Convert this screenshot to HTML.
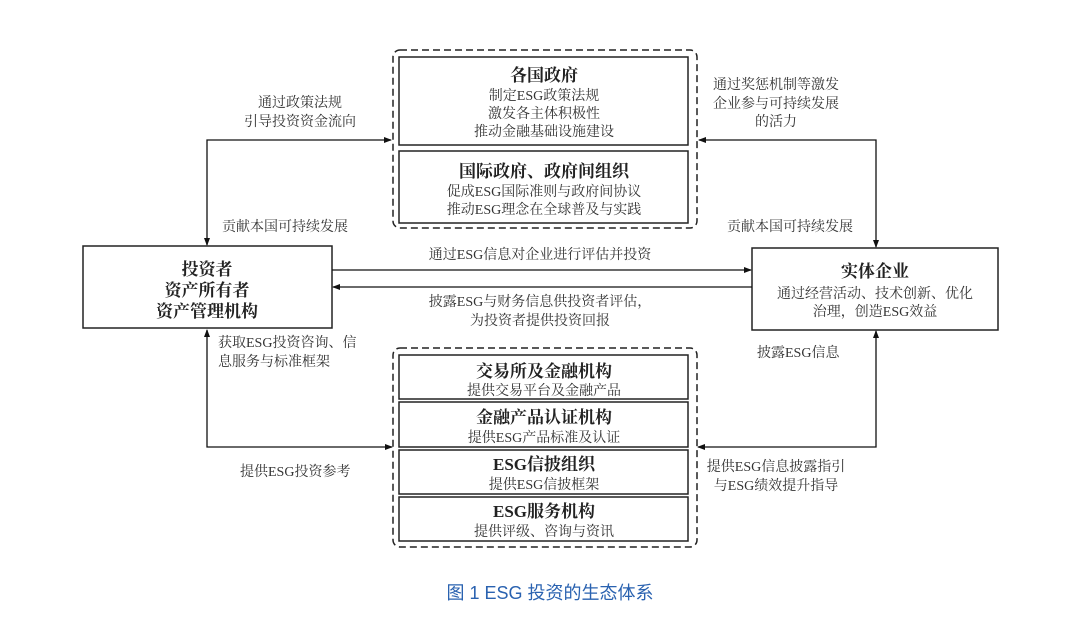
<!DOCTYPE html>
<html><head><meta charset="utf-8"><style>
html,body{margin:0;padding:0;background:#fff;}
svg{display:block}
text{font-family:"Liberation Serif","Noto Serif CJK SC",serif;fill:#222;}
.t{font-size:17px;font-weight:bold;}
.s{font-size:14px;fill:#333;}
.c{text-anchor:middle;}
</style></head><body>
<svg width="1080" height="629" viewBox="0 0 1080 629">
<defs><marker id="a" markerWidth="8" markerHeight="8" refX="7" refY="4" orient="auto-start-reverse" markerUnits="userSpaceOnUse"><path d="M0,1 L8,4 L0,7z" fill="#111"/></marker></defs>
<g fill="none" stroke="#222" stroke-width="1.5">
<rect x="393" y="50" width="304" height="178" rx="7" stroke-dasharray="7,4"/>
<rect x="399" y="57" width="289" height="88"/>
<rect x="399" y="151" width="289" height="72"/>
<rect x="393" y="348" width="304" height="199" rx="7" stroke-dasharray="7,4"/>
<rect x="399" y="355" width="289" height="44"/>
<rect x="399" y="402" width="289" height="45"/>
<rect x="399" y="450" width="289" height="44"/>
<rect x="399" y="497" width="289" height="44"/>
<rect x="83" y="246" width="249" height="82"/>
<rect x="752" y="248" width="246" height="82"/>
<g stroke="#111" stroke-width="1.3">
<path d="M391,140 H207 V245" marker-start="url(#a)" marker-end="url(#a)"/>
<path d="M699,140 H876 V247" marker-start="url(#a)" marker-end="url(#a)"/>
<path d="M332,270 H751" marker-end="url(#a)"/>
<path d="M752,287 H333" marker-end="url(#a)"/>
<path d="M207,330 V447 H392" marker-start="url(#a)" marker-end="url(#a)"/>
<path d="M876,331 V447 H698" marker-start="url(#a)" marker-end="url(#a)"/>
</g>
</g>
<text class="t c" x="544" y="81">各国政府</text>
<text class="s c" x="544" y="100">制定ESG政策法规</text>
<text class="s c" x="544" y="118">激发各主体积极性</text>
<text class="s c" x="544" y="136">推动金融基础设施建设</text>
<text class="t c" x="544" y="177">国际政府、政府间组织</text>
<text class="s c" x="544" y="196">促成ESG国际准则与政府间协议</text>
<text class="s c" x="544" y="214">推动ESG理念在全球普及与实践</text>
<text class="t c" x="544" y="377">交易所及金融机构</text>
<text class="s c" x="544" y="395">提供交易平台及金融产品</text>
<text class="t c" x="544" y="423">金融产品认证机构</text>
<text class="s c" x="544" y="442">提供ESG产品标准及认证</text>
<text class="t c" x="544" y="470">ESG信披组织</text>
<text class="s c" x="544" y="489">提供ESG信披框架</text>
<text class="t c" x="544" y="517">ESG服务机构</text>
<text class="s c" x="544" y="536">提供评级、咨询与资讯</text>
<text class="t c" x="207" y="275">投资者</text>
<text class="t c" x="207" y="296">资产所有者</text>
<text class="t c" x="207" y="317">资产管理机构</text>
<text class="t c" x="875" y="277">实体企业</text>
<text class="s c" x="875" y="298">通过经营活动、技术创新、优化</text>
<text class="s c" x="875" y="316">治理，创造ESG效益</text>
<text class="s c" x="300" y="107">通过政策法规</text>
<text class="s c" x="300" y="126">引导投资资金流向</text>
<text class="s" x="222" y="231">贡献本国可持续发展</text>
<text class="s c" x="776" y="89">通过奖惩机制等激发</text>
<text class="s c" x="776" y="108">企业参与可持续发展</text>
<text class="s c" x="776" y="126">的活力</text>
<text class="s" x="727" y="231">贡献本国可持续发展</text>
<text class="s c" x="540" y="259">通过ESG信息对企业进行评估并投资</text>
<text class="s c" x="540" y="306">披露ESG与财务信息供投资者评估，</text>
<text class="s c" x="540" y="325">为投资者提供投资回报</text>
<text class="s" x="218" y="347">获取ESG投资咨询、信</text>
<text class="s" x="218" y="366">息服务与标准框架</text>
<text class="s" x="757" y="357">披露ESG信息</text>
<text class="s" x="240" y="476">提供ESG投资参考</text>
<text class="s c" x="776" y="471">提供ESG信息披露指引</text>
<text class="s c" x="776" y="490">与ESG绩效提升指导</text>
<text x="550" y="599" text-anchor="middle" style="font-family:'Liberation Sans','Noto Sans CJK SC',sans-serif;font-size:18px;fill:#2a62b0;">图 1  ESG 投资的生态体系</text>
</svg>
</body></html>
